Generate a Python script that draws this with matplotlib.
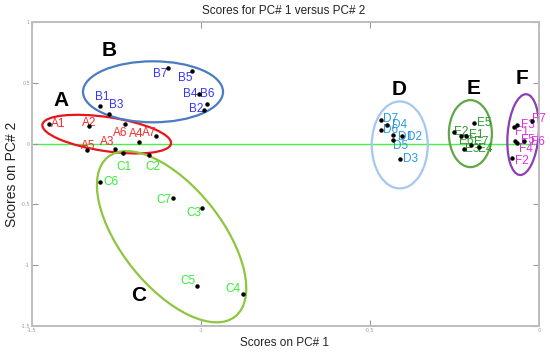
import matplotlib
matplotlib.use("Agg")
import matplotlib.pyplot as plt
from matplotlib.patches import Ellipse
from matplotlib.transforms import ScaledTranslation

# ---------------- data ----------------
groups = ["A", "B", "C", "D", "E", "F"]

A_names = ["A1", "A2", "A3", "A4", "A5", "A6", "A7"]
A_pc1 = [-1.450, -1.330, -1.254, -1.183, -1.336, -1.225, -1.134]
A_pc2 = [0.161, 0.142, -0.043, 0.011, -0.052, 0.161, 0.066]

B_names = ["B1", "B2", "B3", "B4", "B5", "B6", "B7"]
B_pc1 = [-1.299, -0.991, -1.271, -1.006, -1.026, -0.983, -1.097]
B_pc2 = [0.306, 0.276, 0.243, 0.407, 0.598, 0.325, 0.620]

C_names = ["C1", "C2", "C3", "C4", "C5", "C6", "C7"]
C_pc1 = [-1.232, -1.153, -0.998, -0.877, -1.013, -1.299, -1.084]
C_pc2 = [-0.076, -0.093, -0.530, -1.240, -1.175, -0.317, -0.448]

D_names = ["D1", "D2", "D3", "D4", "D5", "D6", "D7"]
D_pc1 = [-0.433, -0.404, -0.411, -0.449, -0.431, -0.467, -0.467]
D_pc2 = [0.071, 0.066, -0.125, 0.156, 0.030, 0.112, 0.197]

E_names = ["E1", "E2", "E3", "E4", "E5", "E6", "E7"]
E_pc1 = [-0.217, -0.251, -0.222, -0.178, -0.192, -0.230, -0.202]
E_pc2 = [0.066, 0.098, -0.041, -0.030, 0.170, 0.066, -0.011]

F_names = ["F1", "F2", "F3", "F4", "F5", "F6", "F7"]
F_pc1 = [-0.074, -0.081, -0.066, -0.066, -0.071, -0.044, -0.022]
F_pc2 = [0.139, -0.117, 0.156, 0.006, 0.025, 0.019, 0.183]

x_ticks = [-1.5, -1, -0.5, 0]
x_tick_labels = ["-1.5", "-1", "-0.5", "0"]
y_ticks = [-1.5, -1, -0.5, 0, 0.5, 1]
y_tick_labels = ["-1.5", "-1", "-0.5", "0", "0.5", "1"]

title = "Scores for PC# 1 versus PC# 2"
xlabel = "Scores on PC# 1"
ylabel = "Scores on PC# 2"

# ---------------- annotation layout (not data) ----------------
# label offsets in pixels (dx, dy up)
label_offsets = {
    "A1": (9.7, 0), "A2": (0, 3), "A3": (-8.3, 7), "A4": (-2.6, 7.9),
    "A5": (1, 4.3), "A6": (-4.7, -9.2), "A7": (-6.5, 2.2),
    "B1": (2.2, 9.4), "B2": (-8, 1), "B3": (7, 8.6), "B4": (-9, 0),
    "B5": (-7.3, -6.7), "B6": (0.3, 10), "B7": (-8, -6),
    "C1": (1, -14.4), "C2": (3.5, -12.4), "C3": (-7.9, -5.1), "C4": (-9.4, 5.6),
    "C5": (-8.4, 5.1), "C6": (11.2, -0.3), "C7": (-8.5, -2.1),
    "D1": (13, -1.7), "D2": (11.7, -1), "D3": (10, 0), "D4": (12.7, 0),
    "D5": (7.5, -5.7), "D6": (9.5, -0.4), "D7": (9, 0.2),
    "E1": (10.2, 1), "E2": (7, -0.5), "E3": (8.5, 0), "E4": (6, -1.3),
    "E5": (10, 0), "E6": (5.2, -5), "E7": (10.3, 2.8),
    "F1": (7.7, -5.8), "F2": (10.5, -3.2), "F3": (11.3, -0.3), "F4": (9.5, -6),
    "F5": (13.3, 0.8), "F6": (14, -1), "F7": (7.5, 2.7),
}
# ellipse: center (data), full width / height in pixels, angle (deg)
ellipse_centers = [(-1.279, 0.078), (-1.142, 0.426), (-1.087, -0.766),
                   (-0.412, -0.011), (-0.203, 0.082), (-0.047, 0.074)]
ellipse_sizes = [(130, 34, -8.4), (140, 61, 0), (204, 100, -51.4),
                 (56, 87, 0), (43, 67, 0), (31, 81, -4.7)]
group_letter_pos = [(-1.415, 0.352), (-1.272, 0.762), (-1.185, -1.248),
                    (-0.413, 0.448), (-0.195, 0.457), (-0.051, 0.539)]
ellipse_colors = ["#e8141b", "#4a7cc4", "#8dc63f", "#a5c8ec", "#5fa845", "#8c3fb5"]
text_colors = ["#f52a2a", "#3535f5", "#33ee33", "#2a9be0", "#2f9a2f", "#e030e0"]

regular = ["Liberation Sans", "DejaVu Sans"]

# ---------------- figure ----------------
fig = plt.figure(figsize=(5.5, 3.54), dpi=100)
ax = fig.add_axes([32 / 550, 1 - 326 / 354, 507 / 550, 304 / 354])
ax.set_xlim(-1.5, 0)
ax.set_ylim(-1.5, 1)

ax.axhline(0, color="#4cf04c", lw=1.0, zorder=1)

all_names = [A_names, B_names, C_names, D_names, E_names, F_names]
all_x = [A_pc1, B_pc1, C_pc1, D_pc1, E_pc1, F_pc1]
all_y = [A_pc2, B_pc2, C_pc2, D_pc2, E_pc2, F_pc2]

for gi, g in enumerate(groups):
    xs, ys, nm = all_x[gi], all_y[gi], all_names[gi]
    ax.plot(xs, ys, "o", color="black", ms=2.2, zorder=4)
    for x, y, n in zip(xs, ys, nm):
        dx, dy = label_offsets[n]
        ax.annotate(n, (x, y), xytext=(dx, dy), textcoords="offset pixels",
                    ha="center", va="center", fontsize=8.5,
                    color=text_colors[gi], family=regular, zorder=3)
    cx, cy = ellipse_centers[gi]
    w, h, ang = ellipse_sizes[gi]
    e = Ellipse((0, 0), w, h, angle=ang, fill=False, edgecolor=ellipse_colors[gi],
                lw=1.6, transform=ScaledTranslation(cx, cy, ax.transData), zorder=2)
    ax.add_patch(e)
    lx, ly = group_letter_pos[gi]
    ax.text(lx, ly, g, fontsize=15, fontweight="bold", ha="center", va="center",
            family=regular, color="black")

ax.set_xticks(x_ticks)
ax.set_xticklabels(x_tick_labels)
ax.set_yticks(y_ticks)
ax.set_yticklabels(y_tick_labels)
ax.tick_params(direction="in", length=4, width=0.8, colors="#9a9a9a",
               labelsize=3.5, pad=1.5, top=True, right=True)
for s in ax.spines.values():
    s.set_color("#bdbdbd")
    s.set_linewidth(1.4)

fig.text(284 / 550, 1 - 11 / 354, title, ha="center", va="center",
         fontsize=8.5, family=regular, color="#222222")
fig.text(284 / 550, 1 - 343 / 354, xlabel, ha="center", va="center",
         fontsize=8.5, family=regular, color="#222222")
fig.text(12 / 550, 1 - 174 / 354, ylabel, ha="center", va="center", rotation=90,
         fontsize=10, family=regular, color="#222222")

fig.savefig("out.png", dpi=100)
